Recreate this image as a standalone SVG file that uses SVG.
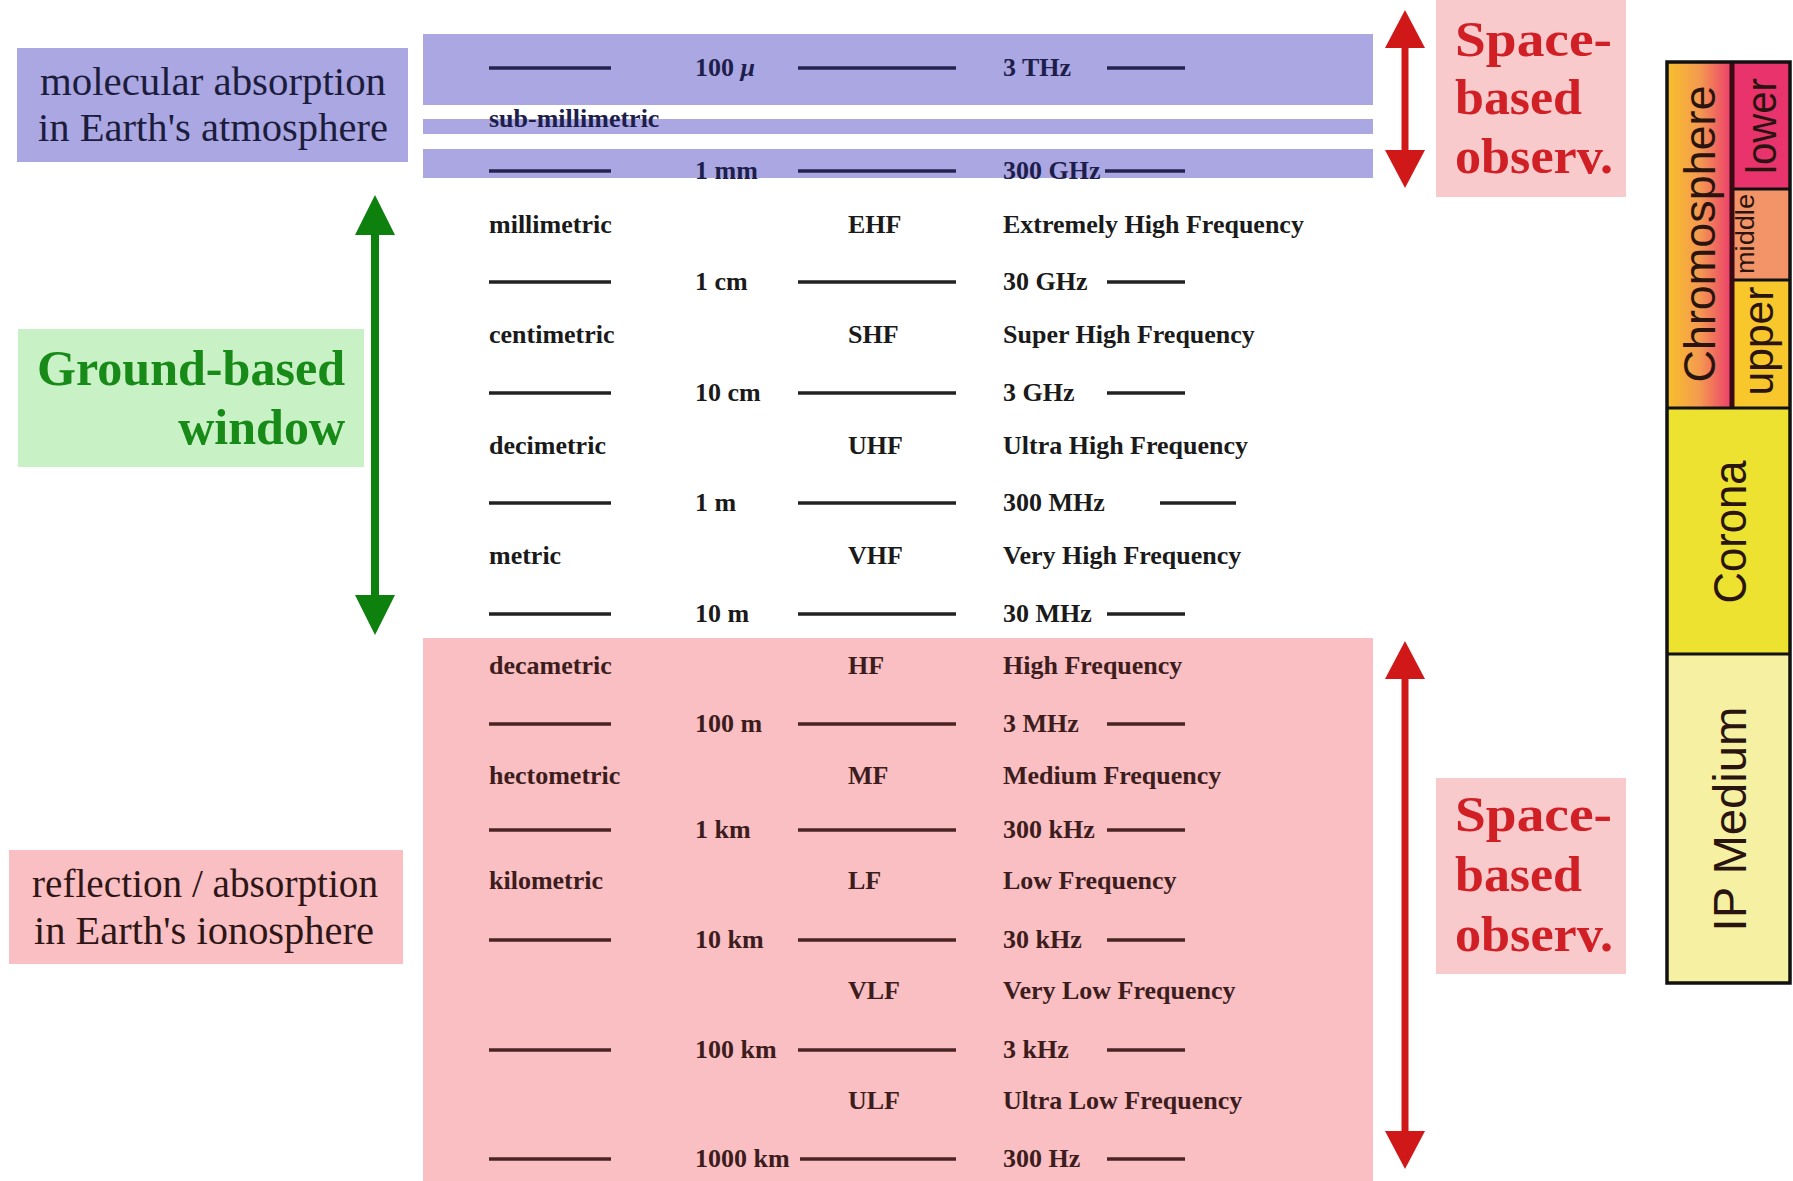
<svg xmlns="http://www.w3.org/2000/svg" width="1793" height="1181" viewBox="0 0 1793 1181">
<defs>
<style>
.bg{fill:#ffffff}
.lav{fill:#aaa7e2}
.pinkzone{fill:#f9bfc2}
.spacebox{fill:#f9cacc}
.greenbox{fill:#c8f1c6}
.tb{font-family:"Liberation Serif","Times New Roman",serif;font-weight:bold;font-size:26px}
.tl{fill:#1e1e4c}
.tw{fill:#1a1a1a}
.tp{fill:#3c1c1c}
.dl{stroke:#23234f;stroke-width:3.5}
.dw{stroke:#222222;stroke-width:3.5}
.dp{stroke:#4a2424;stroke-width:3.5}
.lbl{font-family:"Liberation Serif","Times New Roman",serif;font-size:40px}
.space{font-family:"Liberation Serif","Times New Roman",serif;font-weight:bold;font-size:50px;fill:#d02026}
.ground{font-family:"Liberation Serif","Times New Roman",serif;font-weight:bold;font-size:50px;fill:#178a17}
.sol{font-family:"Liberation Sans",Arial,sans-serif;fill:#2a1410}
.cell{stroke:#111111;stroke-width:3}
</style>
<linearGradient id="chromoGrad" x1="0" y1="0" x2="1" y2="0">
<stop offset="0" stop-color="#f7c02a"/>
<stop offset="0.5" stop-color="#f49a50"/>
<stop offset="1" stop-color="#ec3c6c"/>
</linearGradient>
<marker id="hg" viewBox="0 0 40 40" markerWidth="40" markerHeight="40" refX="1" refY="20" orient="auto-start-reverse" markerUnits="userSpaceOnUse">
<path d="M0,0 L40,20 L0,40 z" fill="#0e800e"/>
</marker>
<marker id="hr" viewBox="0 0 38 40" markerWidth="38" markerHeight="40" refX="1" refY="20" orient="auto-start-reverse" markerUnits="userSpaceOnUse">
<path d="M0,0 L38,20 L0,40 z" fill="#d01818"/>
</marker>
</defs>
<rect class="bg" x="0" y="0" width="1793" height="1181"/>

<!-- spectrum table -->
<g id="spectrum">
<rect class="lav" x="423" y="34" width="950" height="71"/>
<rect class="lav" x="423" y="119" width="950" height="15"/>
<rect class="lav" x="423" y="149" width="950" height="29"/>
<rect class="pinkzone" x="423" y="638" width="950" height="543"/>

<!-- lavender rows -->
<g class="tb tl">
<line class="dl" x1="489" y1="68" x2="611" y2="68"/>
<text x="695" y="76">100 <tspan font-style="italic">μ</tspan></text>
<line class="dl" x1="798" y1="68" x2="956" y2="68"/>
<text x="1003" y="76">3 THz</text>
<line class="dl" x1="1107" y1="68" x2="1185" y2="68"/>
<text x="489" y="127">sub-millimetric</text>
<line class="dl" x1="489" y1="171" x2="611" y2="171"/>
<text x="695" y="179">1 mm</text>
<line class="dl" x1="798" y1="171" x2="956" y2="171"/>
<text x="1003" y="179">300 GHz</text>
<line class="dl" x1="1105" y1="171" x2="1185" y2="171"/>
</g>

<!-- white rows -->
<g class="tb tw">
<text x="489" y="233">millimetric</text>
<text x="848" y="233">EHF</text>
<text x="1003" y="233">Extremely High Frequency</text>
<line class="dw" x1="489" y1="282" x2="611" y2="282"/>
<text x="695" y="290">1 cm</text>
<line class="dw" x1="798" y1="282" x2="956" y2="282"/>
<text x="1003" y="290">30 GHz</text>
<line class="dw" x1="1107" y1="282" x2="1185" y2="282"/>
<text x="489" y="343">centimetric</text>
<text x="848" y="343">SHF</text>
<text x="1003" y="343">Super High Frequency</text>
<line class="dw" x1="489" y1="393" x2="611" y2="393"/>
<text x="695" y="401">10 cm</text>
<line class="dw" x1="798" y1="393" x2="956" y2="393"/>
<text x="1003" y="401">3 GHz</text>
<line class="dw" x1="1107" y1="393" x2="1185" y2="393"/>
<text x="489" y="454">decimetric</text>
<text x="848" y="454">UHF</text>
<text x="1003" y="454">Ultra High Frequency</text>
<line class="dw" x1="489" y1="503" x2="611" y2="503"/>
<text x="695" y="511">1 m</text>
<line class="dw" x1="798" y1="503" x2="956" y2="503"/>
<text x="1003" y="511">300 MHz</text>
<line class="dw" x1="1160" y1="503" x2="1236" y2="503"/>
<text x="489" y="564">metric</text>
<text x="848" y="564">VHF</text>
<text x="1003" y="564">Very High Frequency</text>
<line class="dw" x1="489" y1="614" x2="611" y2="614"/>
<text x="695" y="622">10 m</text>
<line class="dw" x1="798" y1="614" x2="956" y2="614"/>
<text x="1003" y="622">30 MHz</text>
<line class="dw" x1="1107" y1="614" x2="1185" y2="614"/>
</g>

<!-- pink rows -->
<g class="tb tp">
<text x="489" y="674">decametric</text>
<text x="848" y="674">HF</text>
<text x="1003" y="674">High Frequency</text>
<line class="dp" x1="489" y1="724" x2="611" y2="724"/>
<text x="695" y="732">100 m</text>
<line class="dp" x1="798" y1="724" x2="956" y2="724"/>
<text x="1003" y="732">3 MHz</text>
<line class="dp" x1="1107" y1="724" x2="1185" y2="724"/>
<text x="489" y="784">hectometric</text>
<text x="848" y="784">MF</text>
<text x="1003" y="784">Medium Frequency</text>
<line class="dp" x1="489" y1="830" x2="611" y2="830"/>
<text x="695" y="838">1 km</text>
<line class="dp" x1="798" y1="830" x2="956" y2="830"/>
<text x="1003" y="838">300 kHz</text>
<line class="dp" x1="1107" y1="830" x2="1185" y2="830"/>
<text x="489" y="889">kilometric</text>
<text x="848" y="889">LF</text>
<text x="1003" y="889">Low Frequency</text>
<line class="dp" x1="489" y1="940" x2="611" y2="940"/>
<text x="695" y="948">10 km</text>
<line class="dp" x1="798" y1="940" x2="956" y2="940"/>
<text x="1003" y="948">30 kHz</text>
<line class="dp" x1="1107" y1="940" x2="1185" y2="940"/>
<text x="848" y="999">VLF</text>
<text x="1003" y="999">Very Low Frequency</text>
<line class="dp" x1="489" y1="1050" x2="611" y2="1050"/>
<text x="695" y="1058">100 km</text>
<line class="dp" x1="798" y1="1050" x2="956" y2="1050"/>
<text x="1003" y="1058">3 kHz</text>
<line class="dp" x1="1107" y1="1050" x2="1185" y2="1050"/>
<text x="848" y="1109">ULF</text>
<text x="1003" y="1109">Ultra Low Frequency</text>
<line class="dp" x1="489" y1="1159" x2="611" y2="1159"/>
<text x="695" y="1167">1000 km</text>
<line class="dp" x1="800" y1="1159" x2="956" y2="1159"/>
<text x="1003" y="1167">300 Hz</text>
<line class="dp" x1="1107" y1="1159" x2="1185" y2="1159"/>
</g>
</g>

<!-- left labels -->
<g id="molecular">
<rect class="lav" x="17" y="48" width="391" height="114"/>
<text class="lbl" x="213" y="95" text-anchor="middle" fill="#1c1c3c" textLength="346" lengthAdjust="spacingAndGlyphs">molecular absorption</text>
<text class="lbl" x="213" y="141" text-anchor="middle" fill="#1c1c3c" textLength="350" lengthAdjust="spacingAndGlyphs">in Earth's atmosphere</text>
</g>
<g id="ground">
<rect class="greenbox" x="18" y="329" width="346" height="138"/>
<text class="ground" x="345" y="385" text-anchor="end" textLength="308" lengthAdjust="spacingAndGlyphs">Ground-based</text>
<text class="ground" x="345" y="444" text-anchor="end">window</text>
</g>
<g id="reflection">
<rect class="pinkzone" x="9" y="850" width="394" height="114"/>
<text class="lbl" x="32" y="897" fill="#2e1616" textLength="346" lengthAdjust="spacingAndGlyphs">reflection / absorption</text>
<text class="lbl" x="34" y="944" fill="#2e1616" textLength="340" lengthAdjust="spacingAndGlyphs">in Earth's ionosphere</text>
</g>

<!-- space-based labels -->
<g id="space-top">
<rect class="spacebox" x="1436" y="0" width="190" height="197"/>
<text class="space" x="1455" y="56" textLength="157" lengthAdjust="spacingAndGlyphs">Space-</text>
<text class="space" x="1455" y="114" textLength="127" lengthAdjust="spacingAndGlyphs">based</text>
<text class="space" x="1455" y="173" textLength="158" lengthAdjust="spacingAndGlyphs">observ.</text>
</g>
<g id="space-bottom">
<rect class="spacebox" x="1436" y="778" width="190" height="196"/>
<text class="space" x="1455" y="831" textLength="157" lengthAdjust="spacingAndGlyphs">Space-</text>
<text class="space" x="1455" y="891" textLength="127" lengthAdjust="spacingAndGlyphs">based</text>
<text class="space" x="1455" y="951" textLength="158" lengthAdjust="spacingAndGlyphs">observ.</text>
</g>

<!-- solar atmosphere column -->
<g id="solar-column">
<rect x="1667" y="62" width="65" height="346" fill="url(#chromoGrad)"/>
<rect x="1732" y="62" width="59" height="127" fill="#e8336c"/>
<rect x="1732" y="189" width="59" height="91" fill="#f39468"/>
<rect x="1732" y="280" width="59" height="128" fill="#f8c72c"/>
<rect x="1667" y="408" width="124" height="246" fill="#ece22f"/>
<rect x="1667" y="654" width="124" height="329" fill="#f5f0a2"/>
<line class="cell" x1="1732" y1="189" x2="1791" y2="189"/>
<line class="cell" x1="1732" y1="280" x2="1791" y2="280"/>
<line x1="1732" y1="62" x2="1732" y2="408" stroke="#3a0a12" stroke-width="5"/>
<line class="cell" x1="1667" y1="408" x2="1791" y2="408"/>
<line class="cell" x1="1667" y1="654" x2="1791" y2="654"/>
<rect x="1667" y="62" width="123" height="921" fill="none" stroke="#111111" stroke-width="3.5"/>
<text class="sol" font-size="44" transform="translate(1715,234) rotate(-90)" text-anchor="middle" textLength="297" lengthAdjust="spacingAndGlyphs">Chromosphere</text>
<text class="sol" font-size="42" transform="translate(1776,126) rotate(-90)" text-anchor="middle" textLength="96" lengthAdjust="spacingAndGlyphs">lower</text>
<text class="sol" font-size="26" transform="translate(1754,234) rotate(-90)" text-anchor="middle" textLength="80" lengthAdjust="spacingAndGlyphs">middle</text>
<text class="sol" font-size="42" transform="translate(1773,341) rotate(-90)" text-anchor="middle" textLength="109" lengthAdjust="spacingAndGlyphs">upper</text>
<text class="sol" font-size="46" transform="translate(1746,532) rotate(-90)" text-anchor="middle" textLength="143" lengthAdjust="spacingAndGlyphs">Corona</text>
<text class="sol" font-size="46" transform="translate(1746,819) rotate(-90)" text-anchor="middle" textLength="225" lengthAdjust="spacingAndGlyphs">IP Medium</text>
</g>

<!-- connectors -->
<g id="connectors">
<line x1="375" y1="234" x2="375" y2="596" stroke="#0e800e" stroke-width="8" marker-start="url(#hg)" marker-end="url(#hg)"/>
<line x1="1405" y1="47" x2="1405" y2="151" stroke="#d01818" stroke-width="7" marker-start="url(#hr)" marker-end="url(#hr)"/>
<line x1="1405" y1="678" x2="1405" y2="1132" stroke="#d01818" stroke-width="7" marker-start="url(#hr)" marker-end="url(#hr)"/>
</g>
</svg>
